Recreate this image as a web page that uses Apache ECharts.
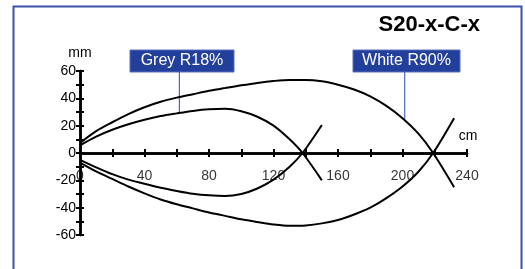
<!DOCTYPE html>
<html>
<head>
<meta charset="utf-8">
<script src="https://cdn.jsdelivr.net/npm/echarts@6/dist/echarts.min.js"></script>
<style>
  html, body { margin: 0; padding: 0; background: #fff; }
  #chart { width: 525px; height: 269px; }
</style>
</head>
<body>
<div id="chart"></div>
<script>
// distance in cm, spread in mm
const greyUpper = [[0, 5.6], [10, 12], [20, 17], [30, 21], [40, 24.3], [50, 27], [60, 29], [70, 30.8], [80, 32], [90, 32.3], [100, 30.5], [110, 26.5], [120, 20], [130, 10], [138, 0], [150, -20]]
const greyLower = [[0, -5], [10, -10.5], [20, -15.5], [30, -19.5], [40, -22.5], [50, -25.5], [60, -27.8], [70, -29.8], [80, -31], [90, -31.5], [100, -30], [110, -26], [120, -19.5], [130, -10], [138, 0], [150, 20.5]]
const whiteUpper = [[0, 7.3], [10, 16], [20, 22.5], [30, 28.5], [40, 33.5], [50, 37.5], [60, 40.5], [70, 43], [80, 45.5], [90, 47.5], [100, 49.5], [110, 51.3], [120, 52.7], [130, 53.5], [140, 53.5], [150, 52.5], [160, 50], [170, 46.5], [180, 41.5], [190, 34.5], [200, 25.5], [210, 14], [219, 0], [232, -25]]
const whiteLower = [[0, -7], [10, -13.5], [20, -19], [30, -24.5], [40, -29.5], [50, -34], [60, -37.5], [70, -40.5], [80, -43.5], [90, -46], [100, -48.5], [110, -50.5], [120, -52.3], [130, -53.3], [140, -53], [150, -51.5], [160, -49], [170, -45], [180, -40], [190, -33], [200, -24.5], [210, -13.5], [219, 0], [232, 25.5]]
const xTickLabels = [0, 40, 80, 120, 160, 200, 240]
const yLabelStep = 20

const font = 'Liberation Sans, Arial, sans-serif'
const myChart = echarts.init(document.getElementById('chart'))

function curve(data) {
  return {
    type: 'line',
    data: data,
    smooth: 0.3,
    showSymbol: false,
    silent: true,
    lineStyle: { color: '#000', width: 2 }
  }
}

const tickStyle = { color: '#000', width: 2 }
const lineStyle = { color: '#000', width: 2.5 }

const option = {
  animation: false,
  title: {
    text: 'S20-x-C-x',
    right: 40,
    top: 9,
    textStyle: { fontFamily: font, fontSize: 22, fontWeight: 'bold', color: '#000' }
  },
  grid: { left: 80, right: 58, top: 71, bottom: 34 },
  xAxis: [
    {
      type: 'value', min: 0, max: 240, interval: 20,
      axisLine: { onZero: true, lineStyle: lineStyle },
      axisTick: { length: 4, lineStyle: tickStyle },
      splitLine: { show: false },
      axisLabel: { show: false }
    },
    {
      type: 'value', min: 0, max: 240, interval: 20, position: 'bottom',
      axisLine: { onZero: true, lineStyle: lineStyle },
      axisTick: { inside: true, length: 4, lineStyle: tickStyle },
      splitLine: { show: false },
      axisLabel: { show: false }
    }
  ],
  yAxis: [
    {
      type: 'value', min: -60, max: 60, interval: 10,
      axisLine: { onZero: true, lineStyle: lineStyle },
      axisTick: { length: 4, lineStyle: tickStyle },
      splitLine: { show: false },
      axisLabel: {
        margin: 4, color: '#000', fontFamily: font, fontSize: 14,
        formatter: v => (v % yLabelStep === 0 ? v : '')
      }
    },
    {
      type: 'value', min: -60, max: 60, interval: 10, position: 'left',
      axisLine: { onZero: true, lineStyle: lineStyle },
      axisTick: { inside: true, length: 4, lineStyle: tickStyle },
      splitLine: { show: false },
      axisLabel: { show: false }
    }
  ],
  series: [
    curve(greyUpper), curve(greyLower), curve(whiteUpper), curve(whiteLower),
    {
      // x tick labels sit under the zero line
      type: 'scatter',
      silent: true,
      symbolSize: 0,
      data: xTickLabels.map(v => [v, 0]),
      label: {
        show: true, position: 'bottom', distance: 16,
        color: '#000', fontFamily: font, fontSize: 14,
        formatter: p => p.value[0]
      }
    }
  ]
}
myChart.setOption(option)

// callout boxes with leader lines down to the curves
function callout(text, boxX, boxW, target) {
  const p = myChart.convertToPixel({ gridIndex: 0 }, target)
  return [
    {
      type: 'line', silent: true,
      shape: { x1: p[0], y1: 72, x2: p[0], y2: p[1] },
      style: { stroke: '#2f47a3', lineWidth: 1 }
    },
    {
      type: 'rect', silent: true,
      shape: { x: boxX, y: 50, width: boxW, height: 22 },
      style: { fill: '#233f9c', stroke: '#5a6fc0', lineWidth: 1 }
    },
    {
      type: 'text', silent: true,
      x: boxX + boxW / 2, y: 61,
      style: { text: text, fill: '#fff', font: '16px ' + font, align: 'center', verticalAlign: 'middle' }
    }
  ]
}

myChart.setOption({
  graphic: [
    {
      type: 'rect', silent: true,
      shape: { x: 13.5, y: 6.5, width: 508, height: 290 },
      style: { fill: 'none', stroke: '#3d52aa', lineWidth: 2 }
    },
    { type: 'text', silent: true, x: 80, y: 53, style: { text: 'mm', font: '14px ' + font, fill: '#000', align: 'center', verticalAlign: 'middle' } },
    { type: 'text', silent: true, x: 468, y: 136, style: { text: 'cm', font: '14px ' + font, fill: '#000', align: 'center', verticalAlign: 'middle' } }
  ].concat(callout('Grey R18%', 130, 104, [61.6, 28.5]), callout('White R90%', 353, 107, [201.4, 23.6]))
})
</script>
</body>
</html>
